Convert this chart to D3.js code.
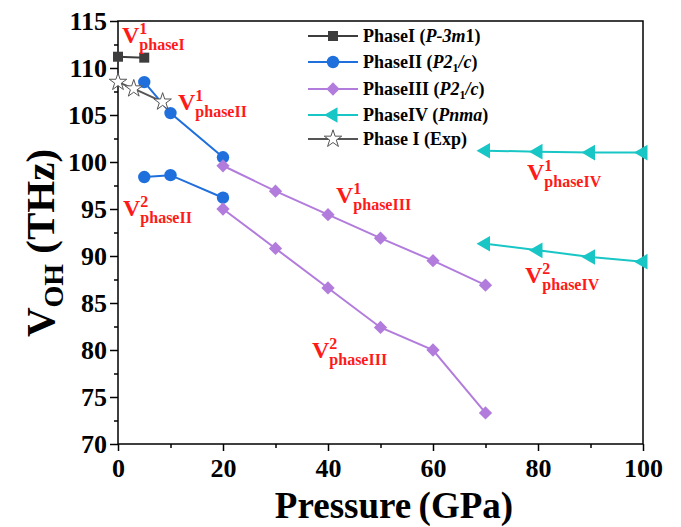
<!DOCTYPE html>
<html>
<head>
<meta charset="utf-8">
<script src="https://cdn.jsdelivr.net/npm/d3@7"></script>
<style>
  html, body { margin: 0; padding: 0; background: #fff; }
  svg { display: block; font-family: "Liberation Serif", "Times New Roman", serif; }
</style>
</head>
<body>
<svg id="chart" width="681" height="527"></svg>
<script>
// O–H stretching frequencies vs pressure for each phase
const phaseIP = [0, 5];
const phaseIV1 = [111.2, 111.1];

const phaseIIP = [5, 10, 20];
const phaseIIV1 = [108.5, 105.2, 100.5];
const phaseIIV2 = [98.4, 98.6, 96.2];

const phaseIIIP = [20, 30, 40, 50, 60, 70];
const phaseIIIV1 = [99.6, 96.9, 94.4, 91.9, 89.5, 86.9];
const phaseIIIV2 = [95.0, 90.8, 86.6, 82.4, 80.0, 73.3];

const phaseIVP = [70, 80, 90, 100];
const phaseIVV1 = [101.2, 101.1, 101.0, 101.0];
const phaseIVV2 = [91.3, 90.6, 89.9, 89.4];

const expP = [0, 3, 8.5];
const expV = [108.5, 107.8, 106.4];

const xTicks = [0, 20, 40, 60, 80, 100];
const yTicks = [70, 75, 80, 85, 90, 95, 100, 105, 110, 115];

const legendLabels = [
  ["PhaseI (", "P-3m", "1)"],
  ["PhaseII (", "P2", "1", "/c", ")"],
  ["PhaseIII (", "P2", "1", "/c", ")"],
  ["PhaseIV (", "Pnma", ")"],
  ["Phase I (Exp)"]
];

const colors = {
  I: "#3d3d3d",
  II: "#1f6fdc",
  III: "#b27cdc",
  IV: "#19c6c6",
  exp: "#555555"
};

const svg = d3.select("#chart");
const margin = { left: 118, right: 38, top: 21, bottom: 83 };
const W = 681, H = 527;

const x = d3.scaleLinear().domain([0, 100]).range([margin.left, W - margin.right]);
const y = d3.scaleLinear().domain([70, 115]).range([H - margin.bottom, margin.top]);

// Axes
const xAxis = d3.axisBottom(x).tickValues(xTicks).tickSize(7).tickPadding(8).tickFormat(d3.format("d"));
const xMinor = d3.axisBottom(x).tickValues(d3.range(10, 100, 20)).tickSize(4).tickFormat("");
const yAxis = d3.axisLeft(y).tickValues(yTicks).tickSize(8).tickPadding(3).tickFormat(d3.format("d"));
const yMinor = d3.axisLeft(y).tickValues(d3.range(72.5, 115, 5)).tickSize(4).tickFormat("");

function styleAxis(g) {
  g.selectAll("path").remove();
  g.selectAll("line").attr("stroke", "#000").attr("stroke-width", 1.5);
  g.selectAll("text")
    .attr("fill", "#000")
    .style("font-family", "'Liberation Serif', 'Times New Roman', serif")
    .style("font-weight", "bold")
    .style("font-size", "26px");
}

svg.append("g").attr("transform", `translate(0,${y(70)})`).call(xAxis).call(styleAxis);
svg.append("g").attr("transform", `translate(0,${y(70)})`).call(xMinor).call(styleAxis);
svg.append("g").attr("transform", `translate(${x(0)},0)`).call(yAxis).call(styleAxis);
svg.append("g").attr("transform", `translate(${x(0)},0)`).call(yMinor).call(styleAxis);

// Frame
svg.append("rect")
  .attr("x", x(0)).attr("y", y(115))
  .attr("width", x(100) - x(0)).attr("height", y(70) - y(115))
  .attr("fill", "none").attr("stroke", "#000").attr("stroke-width", 1.5);

// Axis titles
svg.append("text")
  .attr("x", 394).attr("y", 518)
  .attr("text-anchor", "middle")
  .style("font-weight", "bold").style("font-size", "37px")
  .text("Pressure\u2009(GPa)");

const yTitle = svg.append("text")
  .attr("transform", "translate(54,243) rotate(-90)")
  .attr("text-anchor", "middle")
  .style("font-weight", "bold").style("font-size", "41px");
yTitle.append("tspan").text("V");
yTitle.append("tspan").attr("dy", 9).style("font-size", "28px").text("OH");
yTitle.append("tspan").attr("dy", -9).text(" (THz)");

// Series
const line = d3.line().x(d => x(d[0])).y(d => y(d[1]));
const zip = (a, b) => a.map((v, i) => [v, b[i]]);

const series = [
  { p: phaseIP, v: phaseIV1, c: colors.I, sym: "square" },
  { p: phaseIIP, v: phaseIIV1, c: colors.II, sym: "circle" },
  { p: phaseIIP, v: phaseIIV2, c: colors.II, sym: "circle" },
  { p: phaseIIIP, v: phaseIIIV1, c: colors.III, sym: "diamond" },
  { p: phaseIIIP, v: phaseIIIV2, c: colors.III, sym: "diamond" },
  { p: phaseIVP, v: phaseIVV1, c: colors.IV, sym: "left" },
  { p: phaseIVP, v: phaseIVV2, c: colors.IV, sym: "left" },
  { p: expP, v: expV, c: colors.exp, sym: "star" }
];

function drawMarker(g, sym, c, cx, cy) {
  if (sym === "square") {
    g.append("rect").attr("x", cx - 5).attr("y", cy - 5).attr("width", 10).attr("height", 10).attr("fill", c);
  } else if (sym === "circle") {
    g.append("circle").attr("cx", cx).attr("cy", cy).attr("r", 6.2).attr("fill", c);
  } else if (sym === "diamond") {
    g.append("path").attr("d", d3.symbol(d3.symbolSquare, 88)())
      .attr("transform", `translate(${cx},${cy}) rotate(45)`).attr("fill", c);
  } else if (sym === "left") {
    g.append("path").attr("d", d3.symbol(d3.symbolTriangle, 105)())
      .attr("transform", `translate(${cx},${cy}) rotate(-90)`).attr("fill", c);
  } else if (sym === "star") {
    g.append("path").attr("d", d3.symbol(d3.symbolStar, 95)())
      .attr("transform", `translate(${cx},${cy})`)
      .attr("fill", "#fff").attr("stroke", c).attr("stroke-width", 1);
  }
}

const plot = svg.append("g");
series.forEach(s => {
  const pts = zip(s.p, s.v);
  plot.append("path").datum(pts).attr("d", line)
    .attr("fill", "none").attr("stroke", s.c).attr("stroke-width", 2);
});
series.forEach(s => {
  const g = plot.append("g");
  zip(s.p, s.v).forEach(d => drawMarker(g, s.sym, s.c, x(d[0]), y(d[1])));
});

// Legend
const legendKeys = [
  { c: colors.I, sym: "square" },
  { c: colors.II, sym: "circle" },
  { c: colors.III, sym: "diamond" },
  { c: colors.IV, sym: "left" },
  { c: colors.exp, sym: "star" }
];
const legendY = [36, 62, 89, 115, 139];
const legend = svg.append("g");
legendKeys.forEach((k, i) => {
  const ly = legendY[i];
  legend.append("line").attr("x1", 308).attr("x2", 358).attr("y1", ly).attr("y2", ly)
    .attr("stroke", k.c).attr("stroke-width", 2);
  drawMarker(legend, k.sym, k.c, 333, ly);
  const t = legend.append("text").attr("x", 363).attr("y", ly + 6)
    .style("font-weight", "bold").style("font-size", "18px").attr("fill", "#000");
  const parts = legendLabels[i];
  if (parts.length === 1) {
    t.text(parts[0]);
  } else if (parts.length === 3) {
    t.append("tspan").text(parts[0]);
    t.append("tspan").style("font-style", "italic").text(parts[1]);
    t.append("tspan").text(parts[2]);
  } else {
    t.append("tspan").text(parts[0]);
    t.append("tspan").style("font-style", "italic").text(parts[1]);
    t.append("tspan").attr("dy", 4).style("font-size", "12px").text(parts[2]);
    t.append("tspan").attr("dy", -4).style("font-style", "italic").text(parts[3]);
    t.append("tspan").text(parts[4]);
  }
});

// Mode labels
const modeLabels = [
  { sup: "1", sub: "phaseI", x: 122, y: 43 },
  { sup: "1", sub: "phaseII", x: 178, y: 110 },
  { sup: "2", sub: "phaseII", x: 123, y: 216 },
  { sup: "1", sub: "phaseIII", x: 336, y: 203 },
  { sup: "2", sub: "phaseIII", x: 312, y: 358 },
  { sup: "1", sub: "phaseIV", x: 527, y: 180 },
  { sup: "2", sub: "phaseIV", x: 525, y: 283 }
];
modeLabels.forEach(m => {
  const t = svg.append("text").attr("x", m.x).attr("y", m.y)
    .attr("fill", "#ff1a1a").style("font-weight", "bold").style("font-size", "24px");
  t.append("tspan").text("V");
  t.append("tspan").attr("dy", -9).style("font-size", "16px").text(m.sup);
  t.append("tspan").attr("dy", 16).attr("dx", -8).style("font-size", "16px").text(m.sub);
});
</script>
</body>
</html>
